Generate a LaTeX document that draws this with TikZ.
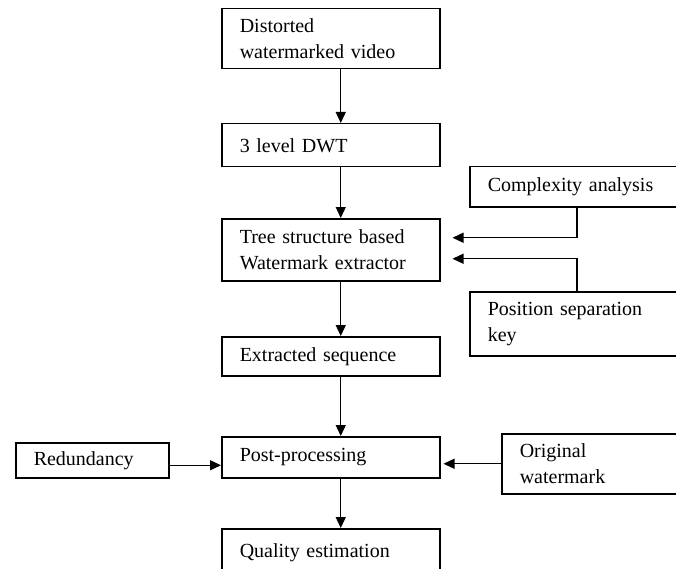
\documentclass[tikz,border=0pt]{standalone}
\usepackage{fontspec}
\setmainfont{Liberation Serif}
\usetikzlibrary{arrows.meta,calc}
\begin{document}
\begin{tikzpicture}[x=1pt,y=-1pt,
  box/.style={draw, line width=1.5pt, anchor=north west, inner xsep=18pt, inner ysep=0pt,
    align=left, fill=white, font=\fontsize{20}{26}\selectfont},
  arr/.style={draw, line width=1.3pt, -{Triangle[length=11pt,width=10pt]}}]
\clip (0,0) rectangle (676,569);
\fill[white] (0,0) rectangle (676,569);
% main column
\node[box, text width=182, minimum height=60] (b1) at (221,8) {Distorted\\watermarked video};
\node[box, text width=182, minimum height=43] (b2) at (221,123) {3 level DWT};
\node[box, text width=182, minimum height=62] (b3) at (221,218) {Tree structure based\\Watermark extractor};
\node[box, text width=182, minimum height=39] (b4) at (221,336) {Extracted sequence};
\node[box, text width=182, minimum height=41] (pp) at (221,436) {Post-processing};
\node[box, text width=182, minimum height=48] (qe) at (221,528) {Quality estimation};
% side boxes
\node[box, text width=117, minimum height=35] (rd) at (15,442) {Redundancy};
\node[box, text width=194, minimum height=40] (cx) at (469,166) {Complexity analysis};
\node[box, text width=194, minimum height=64] (pk) at (469,291) {Position separation\\key};
\node[box, text width=164, minimum height=60] (ow) at (501,433) {Original\\watermark};
% vertical arrows
\draw[arr] ([xshift=10pt]b1.south) -- ([xshift=10pt]b2.north);
\draw[arr] ([xshift=10pt]b2.south) -- ([xshift=10pt]b3.north);
\draw[arr] ([xshift=10pt]b3.south) -- ([xshift=10pt]b4.north);
\draw[arr] ([xshift=10pt]b4.south) -- ([xshift=10pt]pp.north);
\draw[arr] ([xshift=10pt]pp.south) -- ([xshift=10pt]qe.north);
% side arrows
\coordinate (c1) at ([xshift=108pt]cx.south west);
\coordinate (c2) at ([xshift=12pt,yshift=12pt]b3.east);
\draw[arr] (c1) |- (c2);
\coordinate (k1) at ([xshift=108pt]pk.north west);
\coordinate (k2) at ([xshift=12pt,yshift=-9pt]b3.east);
\draw[arr] (k1) |- (k2);
\coordinate (r1) at ([yshift=-5pt]rd.east);
\draw[arr] (r1) -- (r1 -| pp.west);
\coordinate (o2) at ($(pp.east |- ow.west)+(3,0)$);
\draw[arr] (ow.west) -- (o2);
\end{tikzpicture}
\end{document}
